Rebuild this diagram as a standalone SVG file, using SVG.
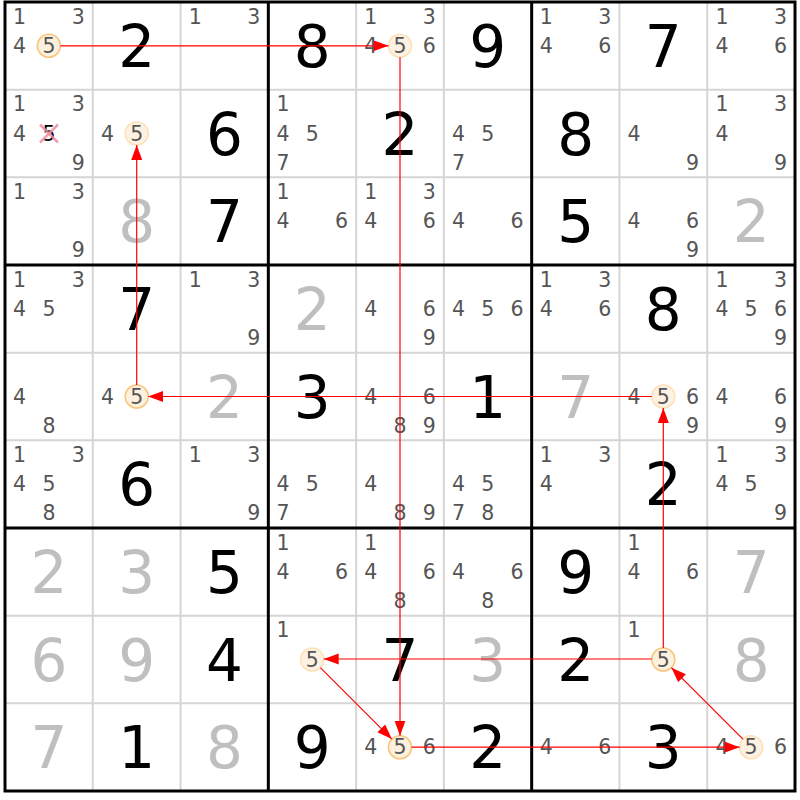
<svg xmlns="http://www.w3.org/2000/svg" width="800" height="800" viewBox="0 0 800 800">
<style>
text{font-family:"DejaVu Sans",Verdana,"Liberation Sans",sans-serif;text-anchor:middle}
.c{font-size:20.5px;fill:#555}
.x{font-size:20.5px;fill:#000}
.g{font-size:58px;fill:#000}
.s{font-size:58px;fill:#bfbfbf}
.on{fill:#fdf0dc;stroke:#f8c57c;stroke-width:1.6}
.off{fill:#fdf2e2;stroke:#fce1bb;stroke-width:1.6}
.thin{stroke:#d5d5d5;stroke-width:2}
.thick{stroke:#000;stroke-width:3;fill:none}
.cross{stroke:#f08ca0;stroke-width:2.5;opacity:0.85}
.arr{stroke:#ff0000;stroke-width:1.2;fill:none;marker-end:url(#ah)}
</style>
<defs>
<marker id="ah" markerUnits="userSpaceOnUse" markerWidth="16" markerHeight="12" refX="15" refY="6" orient="auto">
<path d="M0,0.5 L15,6 L0,11.5 z" fill="#ff0000"/>
</marker>
</defs>
<rect x="0" y="0" width="800" height="800" fill="#fff"/>
<g id="grid">
<g class="thin">
<line x1="92.78" y1="2" x2="92.78" y2="791"/><line x1="180.56" y1="2" x2="180.56" y2="791"/>
<line x1="356.11" y1="2" x2="356.11" y2="791"/><line x1="443.89" y1="2" x2="443.89" y2="791"/>
<line x1="619.44" y1="2" x2="619.44" y2="791"/><line x1="707.22" y1="2" x2="707.22" y2="791"/>
<line x1="5" y1="89.67" x2="795" y2="89.67"/><line x1="5" y1="177.33" x2="795" y2="177.33"/>
<line x1="5" y1="352.67" x2="795" y2="352.67"/><line x1="5" y1="440.33" x2="795" y2="440.33"/>
<line x1="5" y1="615.67" x2="795" y2="615.67"/><line x1="5" y1="703.33" x2="795" y2="703.33"/>
</g>
<g class="thick">
<rect x="5" y="2" width="790" height="789"/>
<line x1="268.33" y1="2" x2="268.33" y2="791"/><line x1="531.67" y1="2" x2="531.67" y2="791"/>
<line x1="5" y1="265" x2="795" y2="265"/><line x1="5" y1="528" x2="795" y2="528"/>
</g>
</g>
<g id="cells">
<g id="r1c1"><circle class="on" cx="48.9" cy="45.8" r="11.5"/><text class="c" x="19.6" y="23.6">1</text><text class="c" x="78.2" y="23.6">3</text><text class="c" x="19.6" y="52.8">4</text><text class="c" x="48.9" y="52.8">5</text></g>
<g id="r1c2"><text class="g" x="136.7" y="66.9">2</text></g>
<g id="r1c3"><text class="c" x="195.2" y="23.6">1</text><text class="c" x="253.7" y="23.6">3</text></g>
<g id="r1c4"><text class="g" x="312.2" y="66.9">8</text></g>
<g id="r1c5"><circle class="off" cx="400" cy="45.8" r="11.5"/><text class="c" x="370.7" y="23.6">1</text><text class="c" x="429.3" y="23.6">3</text><text class="c" x="370.7" y="52.8">4</text><text class="c" x="400" y="52.8">5</text><text class="c" x="429.3" y="52.8">6</text></g>
<g id="r1c6"><text class="g" x="487.8" y="66.9">9</text></g>
<g id="r1c7"><text class="c" x="546.3" y="23.6">1</text><text class="c" x="604.8" y="23.6">3</text><text class="c" x="546.3" y="52.8">4</text><text class="c" x="604.8" y="52.8">6</text></g>
<g id="r1c8"><text class="g" x="663.3" y="66.9">7</text></g>
<g id="r1c9"><text class="c" x="721.9" y="23.6">1</text><text class="c" x="780.4" y="23.6">3</text><text class="c" x="721.9" y="52.8">4</text><text class="c" x="780.4" y="52.8">6</text></g>

<g id="r2c1"><text class="c" x="19.6" y="111.3">1</text><text class="c" x="78.2" y="111.3">3</text><text class="c" x="19.6" y="140.5">4</text><text class="x" x="48.9" y="140.5">5</text><line class="cross" x1="40" y1="124.5" x2="58" y2="142.5"/><line class="cross" x1="58" y1="124.5" x2="40" y2="142.5"/><text class="c" x="78.2" y="169.7">9</text></g>
<g id="r2c2"><circle class="off" cx="136.7" cy="133.5" r="11.5"/><text class="c" x="107.4" y="140.5">4</text><text class="c" x="136.7" y="140.5">5</text></g>
<g id="r2c3"><text class="g" x="224.5" y="154.6">6</text></g>
<g id="r2c4"><text class="c" x="283" y="111.3">1</text><text class="c" x="283" y="140.5">4</text><text class="c" x="312.2" y="140.5">5</text><text class="c" x="283" y="169.7">7</text></g>
<g id="r2c5"><text class="g" x="400" y="154.6">2</text></g>
<g id="r2c6"><text class="c" x="458.5" y="140.5">4</text><text class="c" x="487.8" y="140.5">5</text><text class="c" x="458.5" y="169.7">7</text></g>
<g id="r2c7"><text class="g" x="575.6" y="154.6">8</text></g>
<g id="r2c8"><text class="c" x="634.1" y="140.5">4</text><text class="c" x="692.6" y="169.7">9</text></g>
<g id="r2c9"><text class="c" x="721.9" y="111.3">1</text><text class="c" x="780.4" y="111.3">3</text><text class="c" x="721.9" y="140.5">4</text><text class="c" x="780.4" y="169.7">9</text></g>

<g id="r3c1"><text class="c" x="19.6" y="198.9">1</text><text class="c" x="78.2" y="198.9">3</text><text class="c" x="78.2" y="257.4">9</text></g>
<g id="r3c2"><text class="s" x="136.7" y="242.2">8</text></g>
<g id="r3c3"><text class="g" x="224.5" y="242.2">7</text></g>
<g id="r3c4"><text class="c" x="283" y="198.9">1</text><text class="c" x="283" y="228.2">4</text><text class="c" x="341.5" y="228.2">6</text></g>
<g id="r3c5"><text class="c" x="370.7" y="198.9">1</text><text class="c" x="429.3" y="198.9">3</text><text class="c" x="370.7" y="228.2">4</text><text class="c" x="429.3" y="228.2">6</text></g>
<g id="r3c6"><text class="c" x="458.5" y="228.2">4</text><text class="c" x="517" y="228.2">6</text></g>
<g id="r3c7"><text class="g" x="575.6" y="242.2">5</text></g>
<g id="r3c8"><text class="c" x="634.1" y="228.2">4</text><text class="c" x="692.6" y="228.2">6</text><text class="c" x="692.6" y="257.4">9</text></g>
<g id="r3c9"><text class="s" x="751.1" y="242.2">2</text></g>

<g id="r4c1"><text class="c" x="19.6" y="286.6">1</text><text class="c" x="78.2" y="286.6">3</text><text class="c" x="19.6" y="315.8">4</text><text class="c" x="48.9" y="315.8">5</text></g>
<g id="r4c2"><text class="g" x="136.7" y="329.9">7</text></g>
<g id="r4c3"><text class="c" x="195.2" y="286.6">1</text><text class="c" x="253.7" y="286.6">3</text><text class="c" x="253.7" y="345.1">9</text></g>
<g id="r4c4"><text class="s" x="312.2" y="329.9">2</text></g>
<g id="r4c5"><text class="c" x="370.7" y="315.8">4</text><text class="c" x="429.3" y="315.8">6</text><text class="c" x="429.3" y="345.1">9</text></g>
<g id="r4c6"><text class="c" x="458.5" y="315.8">4</text><text class="c" x="487.8" y="315.8">5</text><text class="c" x="517" y="315.8">6</text></g>
<g id="r4c7"><text class="c" x="546.3" y="286.6">1</text><text class="c" x="604.8" y="286.6">3</text><text class="c" x="546.3" y="315.8">4</text><text class="c" x="604.8" y="315.8">6</text></g>
<g id="r4c8"><text class="g" x="663.3" y="329.9">8</text></g>
<g id="r4c9"><text class="c" x="721.9" y="286.6">1</text><text class="c" x="780.4" y="286.6">3</text><text class="c" x="721.9" y="315.8">4</text><text class="c" x="751.1" y="315.8">5</text><text class="c" x="780.4" y="315.8">6</text><text class="c" x="780.4" y="345.1">9</text></g>

<g id="r5c1"><text class="c" x="19.6" y="403.5">4</text><text class="c" x="48.9" y="432.7">8</text></g>
<g id="r5c2"><circle class="on" cx="136.7" cy="396.5" r="11.5"/><text class="c" x="107.4" y="403.5">4</text><text class="c" x="136.7" y="403.5">5</text></g>
<g id="r5c3"><text class="s" x="224.5" y="417.6">2</text></g>
<g id="r5c4"><text class="g" x="312.2" y="417.6">3</text></g>
<g id="r5c5"><text class="c" x="370.7" y="403.5">4</text><text class="c" x="429.3" y="403.5">6</text><text class="c" x="400" y="432.7">8</text><text class="c" x="429.3" y="432.7">9</text></g>
<g id="r5c6"><text class="g" x="487.8" y="417.6">1</text></g>
<g id="r5c7"><text class="s" x="575.6" y="417.6">7</text></g>
<g id="r5c8"><circle class="off" cx="663.3" cy="396.5" r="11.5"/><text class="c" x="634.1" y="403.5">4</text><text class="c" x="663.3" y="403.5">5</text><text class="c" x="692.6" y="403.5">6</text><text class="c" x="692.6" y="432.7">9</text></g>
<g id="r5c9"><text class="c" x="721.9" y="403.5">4</text><text class="c" x="780.4" y="403.5">6</text><text class="c" x="780.4" y="432.7">9</text></g>

<g id="r6c1"><text class="c" x="19.6" y="461.9">1</text><text class="c" x="78.2" y="461.9">3</text><text class="c" x="19.6" y="491.2">4</text><text class="c" x="48.9" y="491.2">5</text><text class="c" x="48.9" y="520.4">8</text></g>
<g id="r6c2"><text class="g" x="136.7" y="505.2">6</text></g>
<g id="r6c3"><text class="c" x="195.2" y="461.9">1</text><text class="c" x="253.7" y="461.9">3</text><text class="c" x="253.7" y="520.4">9</text></g>
<g id="r6c4"><text class="c" x="283" y="491.2">4</text><text class="c" x="312.2" y="491.2">5</text><text class="c" x="283" y="520.4">7</text></g>
<g id="r6c5"><text class="c" x="370.7" y="491.2">4</text><text class="c" x="400" y="520.4">8</text><text class="c" x="429.3" y="520.4">9</text></g>
<g id="r6c6"><text class="c" x="458.5" y="491.2">4</text><text class="c" x="487.8" y="491.2">5</text><text class="c" x="458.5" y="520.4">7</text><text class="c" x="487.8" y="520.4">8</text></g>
<g id="r6c7"><text class="c" x="546.3" y="461.9">1</text><text class="c" x="604.8" y="461.9">3</text><text class="c" x="546.3" y="491.2">4</text></g>
<g id="r6c8"><text class="g" x="663.3" y="505.2">2</text></g>
<g id="r6c9"><text class="c" x="721.9" y="461.9">1</text><text class="c" x="780.4" y="461.9">3</text><text class="c" x="721.9" y="491.2">4</text><text class="c" x="751.1" y="491.2">5</text><text class="c" x="780.4" y="520.4">9</text></g>

<g id="r7c1"><text class="s" x="48.9" y="592.9">2</text></g>
<g id="r7c2"><text class="s" x="136.7" y="592.9">3</text></g>
<g id="r7c3"><text class="g" x="224.5" y="592.9">5</text></g>
<g id="r7c4"><text class="c" x="283" y="549.6">1</text><text class="c" x="283" y="578.8">4</text><text class="c" x="341.5" y="578.8">6</text></g>
<g id="r7c5"><text class="c" x="370.7" y="549.6">1</text><text class="c" x="370.7" y="578.8">4</text><text class="c" x="429.3" y="578.8">6</text><text class="c" x="400" y="608.1">8</text></g>
<g id="r7c6"><text class="c" x="458.5" y="578.8">4</text><text class="c" x="517" y="578.8">6</text><text class="c" x="487.8" y="608.1">8</text></g>
<g id="r7c7"><text class="g" x="575.6" y="592.9">9</text></g>
<g id="r7c8"><text class="c" x="634.1" y="549.6">1</text><text class="c" x="634.1" y="578.8">4</text><text class="c" x="692.6" y="578.8">6</text></g>
<g id="r7c9"><text class="s" x="751.1" y="592.9">7</text></g>

<g id="r8c1"><text class="s" x="48.9" y="680.6">6</text></g>
<g id="r8c2"><text class="s" x="136.7" y="680.6">9</text></g>
<g id="r8c3"><text class="g" x="224.5" y="680.6">4</text></g>
<g id="r8c4"><circle class="off" cx="312.2" cy="659.5" r="11.5"/><text class="c" x="283" y="637.3">1</text><text class="c" x="312.2" y="666.5">5</text></g>
<g id="r8c5"><text class="g" x="400" y="680.6">7</text></g>
<g id="r8c6"><text class="s" x="487.8" y="680.6">3</text></g>
<g id="r8c7"><text class="g" x="575.6" y="680.6">2</text></g>
<g id="r8c8"><circle class="on" cx="663.3" cy="659.5" r="11.5"/><text class="c" x="634.1" y="637.3">1</text><text class="c" x="663.3" y="666.5">5</text></g>
<g id="r8c9"><text class="s" x="751.1" y="680.6">8</text></g>

<g id="r9c1"><text class="s" x="48.9" y="768.2">7</text></g>
<g id="r9c2"><text class="g" x="136.7" y="768.2">1</text></g>
<g id="r9c3"><text class="s" x="224.5" y="768.2">8</text></g>
<g id="r9c4"><text class="g" x="312.2" y="768.2">9</text></g>
<g id="r9c5"><circle class="on" cx="400" cy="747.2" r="11.5"/><text class="c" x="370.7" y="754.2">4</text><text class="c" x="400" y="754.2">5</text><text class="c" x="429.3" y="754.2">6</text></g>
<g id="r9c6"><text class="g" x="487.8" y="768.2">2</text></g>
<g id="r9c7"><text class="c" x="546.3" y="754.2">4</text><text class="c" x="604.8" y="754.2">6</text></g>
<g id="r9c8"><text class="g" x="663.3" y="768.2">3</text></g>
<g id="r9c9"><circle class="off" cx="751.1" cy="747.2" r="11.5"/><text class="c" x="721.9" y="754.2">4</text><text class="c" x="751.1" y="754.2">5</text><text class="c" x="780.4" y="754.2">6</text></g>
</g>
<g id="connectors">
<line class="arr" x1="60.4" y1="45.8" x2="388.5" y2="45.8"/>
<line class="arr" x1="400" y1="57.3" x2="400" y2="735.7"/>
<line class="arr" x1="411.5" y1="747.2" x2="739.6" y2="747.2"/>
<line class="arr" x1="742.96" y1="739.07" x2="671.44" y2="667.63"/>
<line class="arr" x1="663.3" y1="648" x2="663.3" y2="408"/>
<line class="arr" x1="651.8" y1="396.5" x2="148.2" y2="396.5"/>
<line class="arr" x1="136.7" y1="385" x2="136.7" y2="145"/>
<line class="arr" x1="651.8" y1="659" x2="323.7" y2="659"/>
<line class="arr" x1="320.34" y1="667.63" x2="391.86" y2="739.07"/>
</g>
</svg>
